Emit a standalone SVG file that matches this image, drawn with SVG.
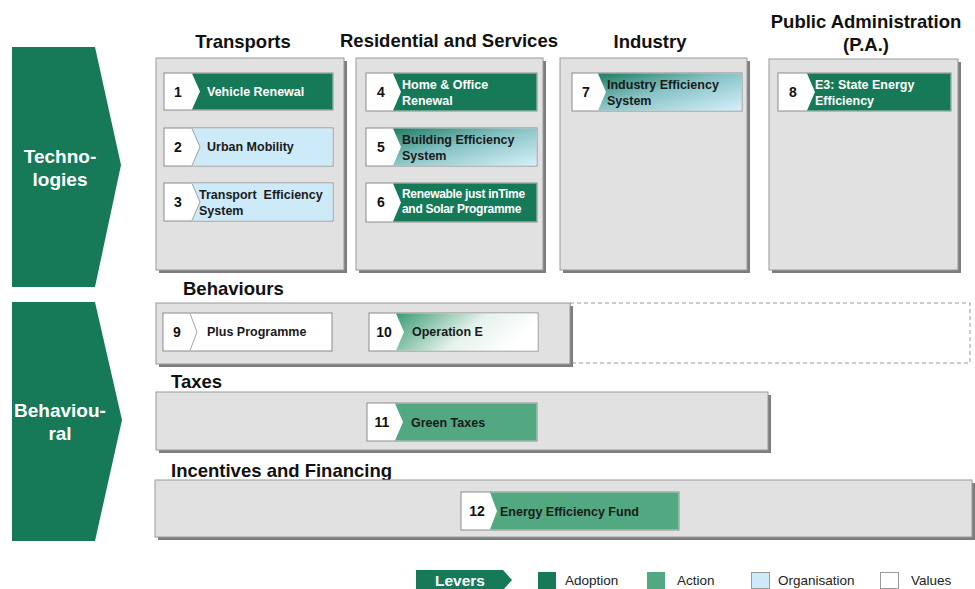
<svg xmlns="http://www.w3.org/2000/svg" width="975" height="589" viewBox="0 0 975 589">
<style>
text{font-family:"Liberation Sans",Arial,sans-serif}
.hdr{font-size:18.5px;font-weight:bold;fill:#111}
.side{font-size:19px;font-weight:bold;fill:#fff;text-anchor:middle}
.num{font-size:14px;font-weight:bold;fill:#111;text-anchor:middle}
.lw{font-size:12.5px;font-weight:bold;fill:#fff}
.ld{font-size:12.5px;font-weight:bold;fill:#1a1a1a}
.panel{fill:#e1e1e1;stroke:#9a9a9a;stroke-width:1}
.shadow{fill:#7d7d7d}
.box{fill:#fff;stroke:#8c8c8c;stroke-width:1}
.adopt{fill:#167a58}
.action{fill:#52a880}
.org{fill:#cdeaf8}
.leg{font-size:13.5px;fill:#222}
</style>
<defs>
<linearGradient id="orgGrad" x1="0" y1="0" x2="1" y2="1">
<stop offset="0" stop-color="#1f7d62"/>
<stop offset="0.45" stop-color="#86c2c4"/>
<stop offset="1" stop-color="#d6f0fa"/>
</linearGradient>
<linearGradient id="valGrad" x1="0" y1="0" x2="1" y2="0.3">
<stop offset="0" stop-color="#3a9b73"/>
<stop offset="0.6" stop-color="#e6f2ec"/>
<stop offset="1" stop-color="#ffffff"/>
</linearGradient>
</defs>
<rect width="975" height="589" fill="#fff"/>

<g id="side-technologies">
<polygon points="12,47 95,47 121,165 95,287 12,287" class="adopt"/>
<text x="60" y="163" class="side">Techno-</text>
<text x="60" y="186" class="side">logies</text>
</g>
<g id="side-behavioural">
<polygon points="12,302 95,302 122,420 95,541 12,541" class="adopt"/>
<text x="60" y="417" class="side">Behaviou-</text>
<text x="60" y="440" class="side">ral</text>
</g>

<g id="panel-transports">
<text x="243" y="48" class="hdr" text-anchor="middle">Transports</text>
<rect x="159" y="61" width="188" height="212" class="shadow"/>
<rect x="156" y="58" width="188" height="212" class="panel"/>
</g>
<g id="panel-residential">
<text x="449" y="47" class="hdr" text-anchor="middle">Residential and Services</text>
<rect x="359" y="61" width="187" height="212" class="shadow"/>
<rect x="356" y="58" width="187" height="212" class="panel"/>
</g>
<g id="panel-industry">
<text x="650" y="48" class="hdr" text-anchor="middle">Industry</text>
<rect x="563" y="61" width="187" height="212" class="shadow"/>
<rect x="560" y="58" width="187" height="212" class="panel"/>
</g>
<g id="panel-pa">
<text x="866" y="28" class="hdr" text-anchor="middle">Public Administration</text>
<text x="866" y="51" class="hdr" text-anchor="middle">(P.A.)</text>
<rect x="772" y="62" width="189" height="211" class="shadow"/>
<rect x="769" y="59" width="189" height="211" class="panel"/>
</g>
<g id="panel-behaviours">
<text x="183" y="295" class="hdr">Behaviours</text>
<rect x="570" y="303" width="400" height="60" fill="none" stroke="#9a9a9a" stroke-width="1" stroke-dasharray="4,3"/>
<rect x="159" y="306" width="414" height="61" class="shadow"/>
<rect x="156" y="303" width="414" height="61" class="panel"/>
</g>
<g id="panel-taxes">
<text x="171" y="388" class="hdr">Taxes</text>
<rect x="159" y="395" width="612" height="58" class="shadow"/>
<rect x="156" y="392" width="612" height="58" class="panel"/>
</g>
<g id="panel-incentives">
<text x="171" y="477" class="hdr">Incentives and Financing</text>
<rect x="158" y="483" width="817" height="57" class="shadow"/>
<rect x="155" y="480" width="817" height="57" class="panel"/>
</g>

<g id="lever-1">
<rect x="164" y="73" width="169" height="37" class="box"/>
<polygon points="192,73.5 332.5,73.5 332.5,109.5 192,109.5 200,91.5" class="adopt"/>
<text x="178" y="97" class="num">1</text>
<text x="207" y="96" class="lw">Vehicle Renewal</text>
</g>
<g id="lever-2">
<rect x="164" y="128" width="169" height="38" class="box"/>
<polygon points="192,128.5 332.5,128.5 332.5,165.5 192,165.5 200,147" class="org"/>
<polyline points="192,128.5 200,147 192,165.5" fill="none" stroke="#8c8c8c" stroke-width="0.8"/>
<text x="178" y="152" class="num">2</text>
<text x="207" y="151" class="ld">Urban Mobility</text>
</g>
<g id="lever-3">
<rect x="164" y="183" width="169" height="38" class="box"/>
<polygon points="192,183.5 332.5,183.5 332.5,220.5 192,220.5 200,202" class="org"/>
<polyline points="192,183.5 200,202 192,220.5" fill="none" stroke="#8c8c8c" stroke-width="0.8"/>
<text x="178" y="207" class="num">3</text>
<text x="199" y="199" class="ld" xml:space="preserve">Transport  Efficiency</text>
<text x="199" y="215" class="ld">System</text>
</g>
<g id="lever-4">
<rect x="366" y="73" width="171" height="38" class="box"/>
<polygon points="393,73.5 536.5,73.5 536.5,110.5 393,110.5 401,92" class="adopt"/>
<text x="381" y="97" class="num">4</text>
<text x="402" y="89" class="lw">Home &amp; Office</text>
<text x="402" y="105" class="lw">Renewal</text>
</g>
<g id="lever-5">
<rect x="366" y="128" width="171" height="38" class="box"/>
<polygon points="393,128.5 536.5,128.5 536.5,165.5 393,165.5 401,147" fill="url(#orgGrad)"/>
<text x="381" y="152" class="num">5</text>
<text x="402" y="144" class="ld">Building Efficiency</text>
<text x="402" y="160" class="ld">System</text>
</g>
<g id="lever-6">
<rect x="366" y="183" width="171" height="39" class="box"/>
<polygon points="393,183.5 536.5,183.5 536.5,221.5 393,221.5 401,202.5" class="adopt"/>
<text x="381" y="207" class="num">6</text>
<text x="402" y="198" class="lw" style="font-size:12px;letter-spacing:-0.3px">Renewable just inTime</text>
<text x="402" y="213" class="lw" style="font-size:12px;letter-spacing:-0.3px">and Solar Programme</text>
</g>
<g id="lever-7">
<rect x="572" y="73" width="170" height="38" class="box"/>
<polygon points="598,73.5 741.5,73.5 741.5,110.5 598,110.5 606,92" fill="url(#orgGrad)"/>
<text x="586" y="97" class="num">7</text>
<text x="607" y="89" class="ld">Industry Efficiency</text>
<text x="607" y="105" class="ld">System</text>
</g>
<g id="lever-8">
<rect x="778" y="73" width="173" height="38" class="box"/>
<polygon points="807,73.5 950.5,73.5 950.5,110.5 807,110.5 815,92" class="adopt"/>
<text x="793" y="97" class="num">8</text>
<text x="815" y="89" class="lw">E3: State Energy</text>
<text x="815" y="105" class="lw">Efficiency</text>
</g>
<g id="lever-9">
<rect x="163" y="313" width="169" height="38" class="box"/>
<polyline points="190,313.5 197,332 190,350.5" fill="none" stroke="#8c8c8c" stroke-width="0.8"/>
<text x="177" y="337" class="num">9</text>
<text x="207" y="336" class="ld">Plus Programme</text>
</g>
<g id="lever-10">
<rect x="369" y="313" width="169" height="38" class="box"/>
<polygon points="396,313.5 537.5,313.5 537.5,350.5 396,350.5 404,332" fill="url(#valGrad)"/>
<text x="384" y="337" class="num">10</text>
<text x="412" y="336" class="ld">Operation E</text>
</g>
<g id="lever-11">
<rect x="367" y="403" width="170" height="38" class="box"/>
<polygon points="395,403.5 536.5,403.5 536.5,440.5 395,440.5 403,422" class="action"/>
<text x="382" y="427" class="num">11</text>
<text x="411" y="427" class="ld">Green Taxes</text>
</g>
<g id="lever-12">
<rect x="461" y="492" width="218" height="38" class="box"/>
<polygon points="490,492.5 678.5,492.5 678.5,529.5 490,529.5 497,511" class="action"/>
<text x="477" y="516" class="num">12</text>
<text x="500" y="516" class="ld">Energy Efficiency Fund</text>
</g>

<g id="legend">
<polygon points="416,570 503,570 512,580 503,590 416,590" class="adopt"/>
<text x="460" y="586" style="font-size:15.5px;font-weight:bold;fill:#fff" text-anchor="middle">Levers</text>
<rect x="538" y="572" width="18" height="17" class="adopt"/>
<text x="565" y="585" class="leg">Adoption</text>
<rect x="647" y="572" width="18" height="17" class="action"/>
<text x="677" y="585" class="leg">Action</text>
<rect x="751.5" y="572.5" width="18" height="16" class="org" stroke="#9a9a9a"/>
<text x="778" y="585" class="leg">Organisation</text>
<rect x="880.5" y="572.5" width="18" height="16" fill="#fff" stroke="#9a9a9a"/>
<text x="911" y="585" class="leg">Values</text>
</g>
<g id="connectors"></g>
</svg>
